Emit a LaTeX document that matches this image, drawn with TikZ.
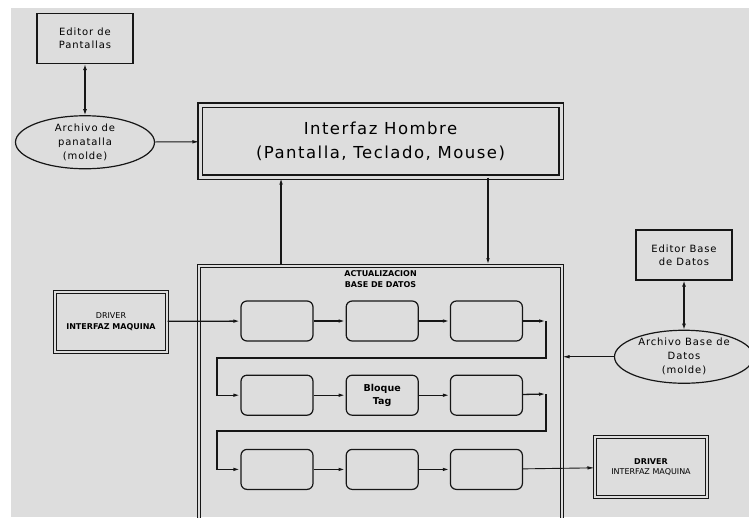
\documentclass[tikz,border=0pt]{standalone}
\usepackage{fontspec}
\setmainfont{DejaVu Sans}
\newfontfamily\widefont{DejaVu Sans}[LetterSpace=9]
\usetikzlibrary{arrows.meta,positioning,shapes.geometric}
\definecolor{paper}{RGB}{221,221,221}
\definecolor{ink}{RGB}{22,22,22}
\tikzset{
  editbox/.style={draw=ink, line width=1.3pt, minimum width=96pt, minimum height=50pt, align=center, font=\widefont\fontsize{10}{13}\selectfont},
  archivo/.style={draw=ink, ellipse, line width=1.2pt, minimum width=139pt, minimum height=53pt, inner sep=-3pt, align=center, font=\widefont\fontsize{10}{14}\selectfont},
  mainbox/.style={draw=ink, double=paper, double distance=3pt, line width=1.2pt, align=center},
  driverbox/.style={draw=ink, double=paper, double distance=2pt, line width=1pt, minimum width=112pt, minimum height=60pt, align=center, font=\fontsize{8}{10.5}\selectfont},
  stepbox/.style={draw=ink, line width=1.2pt, rounded corners=6pt, minimum width=72pt, minimum height=40pt, align=center, font=\bfseries\fontsize{9.5}{13}\selectfont},
  link/.style={-{Latex[length=7pt,width=3.5pt]}, line width=1.3pt, draw=ink},
  thinlink/.style={link, line width=0.9pt},
  dlink/.style={{Latex[length=6pt,width=4pt]}-{Latex[length=6pt,width=4pt]}, line width=1.8pt, draw=ink}
}
\begin{document}
\begin{tikzpicture}[x=1pt, y=-1pt]
  \clip (0,0) rectangle (749,517);
  \fill[white] (0,0) rectangle (749,517);
  \fill[paper] (11,8) rectangle (749,517);

  \node[editbox] (edpant) at (85,38.5) {Editor de\\Pantallas};
  \node[archivo, below=51pt of edpant] (archpant) {Archivo de\\panatalla\\(molde)};
  \node[mainbox, minimum width=361pt, minimum height=72pt, font=\widefont\fontsize{16.5}{24}\selectfont] (hombre) at (380.5,141) {Interfaz Hombre\\(Pantalla, Teclado, Mouse)};

  \node[mainbox, double distance=2pt, line width=1pt, minimum width=363pt, minimum height=279pt] (actbd) at (380.5,405) {};
  \node[below=5pt of actbd.north, inner sep=0pt, align=center, font=\bfseries\fontsize{8}{11}\selectfont] (acttitle) {ACTUALIZACION\\BASE DE DATOS};

  \node[driverbox] (drvin) at (111,321.5) {DRIVER\\\textbf{INTERFAZ MAQUINA}};
  \node[driverbox] (drvout) at (651,467) {\textbf{DRIVER}\\INTERFAZ MAQUINA};
  \node[editbox] (edbd) at (684,255) {Editor Base\\de Datos};
  \node[archivo, below=49pt of edbd] (archbd) {Archivo Base de\\Datos\\(molde)};

  \node[stepbox] (b11) at (277,321) {};
  \node[stepbox, right=32pt of b11] (b12) {};
  \node[stepbox, right=31pt of b12] (b13) {};
  \node[stepbox, below=33pt of b11] (b21) {};
  \node[stepbox, right=32pt of b21] (b22) {Bloque\\Tag};
  \node[stepbox, right=31pt of b22] (b23) {};
  \node[stepbox, below=33pt of b21] (b31) {};
  \node[stepbox, right=32pt of b31] (b32) {};
  \node[stepbox, right=31pt of b32] (b33) {};

  \coordinate (turn1) at (546,321);
  \coordinate (back1) at (217,358);
  \coordinate (turn2) at (546,394);
  \coordinate (back2) at (217,431);

  \draw[dlink] (edpant) -- (archpant);
  \draw[thinlink] (archpant) -- (hombre);
  \draw[link] ([xshift=-99.5pt]actbd.north) -- ([xshift=-99.5pt]hombre.south);
  \draw[link] ([xshift=107.5pt]hombre.south) -- ([xshift=107.5pt]actbd.north);
  \draw[link] (drvin) -- (b11);
  \draw[link] (b11) -- (b12);
  \draw[link] (b12) -- (b13);
  \draw[link] (b13) -- (turn1);
  \draw[link] (turn1) |- (back1) |- (b21);
  \draw[link] (b21) -- (b22);
  \draw[link] (b22) -- (b23);
  \draw[link] (b23) -- (turn2);
  \draw[link] (turn2) |- (back2) |- (b31);
  \draw[link] (b31) -- (b32);
  \draw[link] (b32) -- (b33);
  \draw[thinlink] (b33) -- (drvout);
  \draw[dlink, line width=1.2pt] (edbd) -- (archbd);
  \draw[thinlink] (archbd) -- (archbd -| actbd.east);
\end{tikzpicture}
\end{document}
